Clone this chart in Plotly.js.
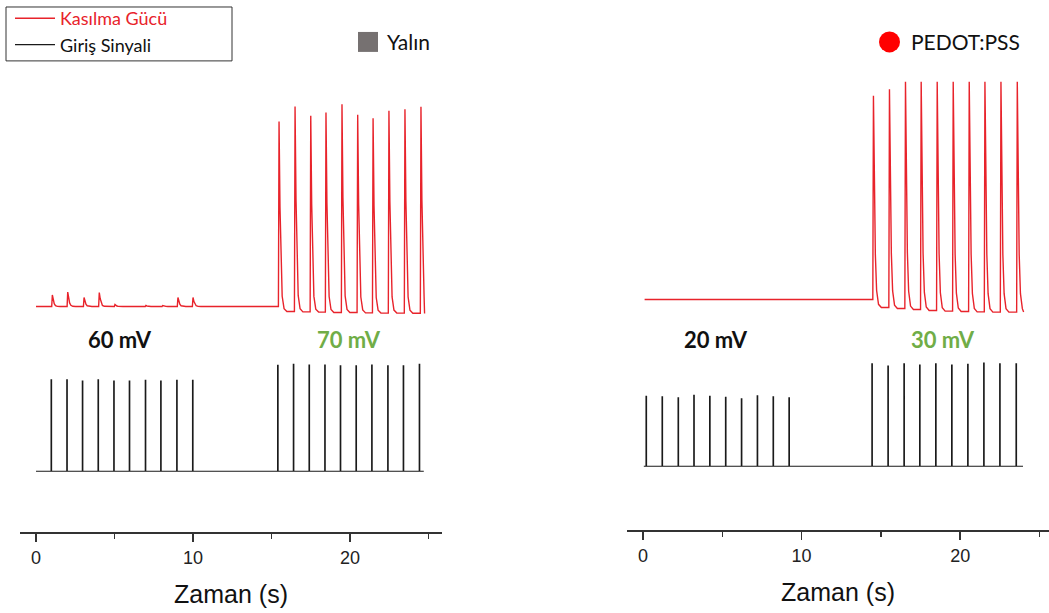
<!DOCTYPE html>
<html>
<head>
<meta charset="utf-8">
<script src="https://cdn.plot.ly/plotly-3.0.1.min.js"></script>
<style>html,body{margin:0;padding:0;background:#fff;}#chart{width:1049px;height:613px;}</style>
</head>
<body>
<div id="chart"></div>
<script>
// ---------- DATA ----------
// Left panel: "Yalın" (bare electrode) — contraction force peaks (arbitrary units, baseline = 0)
const yalinForceTimes   = [1.04, 2.02, 3.06, 4.03, 5.03, 7.0, 8.07, 9.04, 10.0,
                           15.48, 16.5, 17.5, 18.47, 19.49, 20.49, 21.47, 22.48, 23.5, 24.52];
const yalinForcePeaks   = [0.58, 0.72, 0.45, 0.7, 0.1, 0.05, 0.05, 0.45, 0.45,
                           9.27, 10.02, 9.55, 9.72, 10.13, 9.6, 9.43, 9.8, 9.88, 10.0];
const yalinForceTroughs = [0, 0, 0, 0, 0, 0, 0, 0, 0,
                           -0.25, -0.27, -0.28, -0.3, -0.3, -0.32, -0.33, -0.33, -0.34, -0.35];
const yalinForceSpan    = [0, 24.75];
// Left panel input signal pulses
const yalinSignalTimes   = [0.96, 1.96, 2.95, 3.95, 4.95, 5.94, 6.96, 7.94, 8.96, 9.97,
                            15.39, 16.39, 17.39, 18.39, 19.38, 20.38, 21.38, 22.4, 23.39, 24.41];
const yalinSignalHeights = [4.58, 4.58, 4.52, 4.58, 4.52, 4.52, 4.55, 4.52, 4.55, 4.55,
                            5.3, 5.35, 5.32, 5.32, 5.28, 5.28, 5.32, 5.28, 5.28, 5.35];
const yalinSignalSpan    = [0, 24.7];

// Right panel: "PEDOT:PSS"
const pedotForceTimes   = [14.53, 15.54, 16.55, 17.54, 18.55, 19.56, 20.57, 21.56, 22.57, 23.6];
const pedotForcePeaks   = [10.2, 10.53, 10.9, 10.9, 10.9, 10.9, 10.9, 10.9, 10.9, 10.9];
const pedotForceTroughs = [-0.4, -0.45, -0.5, -0.55, -0.58, -0.6, -0.62, -0.63, -0.63, -0.63];
const pedotForceSpan    = [0.1, 24.0];
const pedotSignalTimes   = [0.19, 1.2, 2.21, 3.2, 4.2, 5.2, 6.2, 7.2, 8.2, 9.2,
                            14.43, 15.44, 16.45, 17.44, 18.45, 19.46, 20.47, 21.48, 22.49, 23.52];
const pedotSignalHeights = [3.5, 3.47, 3.42, 3.55, 3.5, 3.45, 3.37, 3.53, 3.47, 3.43,
                            5.13, 5.02, 5.13, 5.07, 5.13, 5.07, 5.1, 5.17, 5.13, 5.13];
const pedotSignalSpan    = [0.05, 23.96];

// Labels
const voltageLabels = ['60 mV', '70 mV', '20 mV', '30 mV'];
const seriesNames   = ['Kasılma Gücü', 'Giriş Sinyali'];
const panelNames    = ['Yalın', 'PEDOT:PSS'];
const xTickVals     = [0, 10, 20];
const xMinorVals    = [5, 15, 25];
const xTitle        = 'Zaman (s)';

// ---------- build waveforms from the read peaks ----------
// twitch shape: fraction of (peak - trough) remaining after the peak
const twitchShape = [[0.06, 0.55], [0.12, 0.25], [0.2, 0.08], [0.32, 0.015], [0.5, 0]];
function forceTrace(times, peaks, troughs, span) {
  const xs = [span[0]], ys = [0];
  let level = 0;
  for (let i = 0; i < times.length; i++) {
    const t = times[i], p = peaks[i], tr = troughs[i];
    xs.push(t - 0.04); ys.push(level);
    xs.push(t); ys.push(p);
    twitchShape.forEach(([dt, f]) => { xs.push(t + dt); ys.push(tr + (p - tr) * f); });
    level = tr;
  }
  xs.push(span[1]); ys.push(level);
  const ox = [], oy = [];
  xs.forEach((x, i) => { if (x <= span[1] + 1e-9) { ox.push(x); oy.push(ys[i]); } });
  return {x: ox, y: oy};
}
function signalTrace(times, heights, span) {
  const xs = [span[0]], ys = [0];
  for (let i = 0; i < times.length; i++) {
    const t = times[i], h = heights[i];
    xs.push(t, t, t + 0.03, t + 0.03); ys.push(0, h, h, 0);
  }
  xs.push(span[1]); ys.push(0);
  return {x: xs, y: ys};
}

const RED = '#e8232b', BLACK = '#1a1a1a', GREEN = '#70ad47';
const yf = forceTrace(yalinForceTimes, yalinForcePeaks, yalinForceTroughs, yalinForceSpan);
const ys = signalTrace(yalinSignalTimes, yalinSignalHeights, yalinSignalSpan);
const pf = forceTrace(pedotForceTimes, pedotForcePeaks, pedotForceTroughs, pedotForceSpan);
const ps = signalTrace(pedotSignalTimes, pedotSignalHeights, pedotSignalSpan);

const traces = [
  {x: yf.x, y: yf.y, xaxis: 'x', yaxis: 'y', mode: 'lines', line: {color: RED, width: 1.4},
   name: '<span style="color:' + RED + '">' + seriesNames[0] + '</span>', legendrank: 1},
  {x: ys.x, y: ys.y, xaxis: 'x', yaxis: 'y2', mode: 'lines', line: {color: BLACK, width: 1.2},
   name: seriesNames[1], legendrank: 2},
  {x: pf.x, y: pf.y, xaxis: 'x2', yaxis: 'y3', mode: 'lines', line: {color: RED, width: 1.4},
   name: seriesNames[0], showlegend: false},
  {x: ps.x, y: ps.y, xaxis: 'x2', yaxis: 'y4', mode: 'lines', line: {color: BLACK, width: 1.2},
   name: seriesNames[1], showlegend: false}
];

const W = 1049, H = 613;
const px = v => v / W, py = v => 1 - v / H;

function xAxis(domain, range, posPx) {
  return {
    domain: domain, range: range, anchor: 'free', position: py(posPx),
    showline: true, linecolor: '#333', linewidth: 2, mirror: false,
    showgrid: false, zeroline: false,
    ticks: 'outside', ticklen: 8, tickwidth: 1.5, tickcolor: '#333',
    tickmode: 'array', tickvals: xTickVals, ticktext: xTickVals.map(String),
    minor: {tickmode: 'array', tickvals: xMinorVals, ticks: 'outside', ticklen: 5, tickwidth: 1.5, tickcolor: '#333', showgrid: false},
    tickfont: {family: 'Liberation Sans, Arial, sans-serif', size: 18, color: '#222'},
    title: {text: xTitle, font: {family: 'Liberation Sans, Arial, sans-serif', size: 25, color: '#111'}, standoff: 18},
    automargin: false, fixedrange: true
  };
}
function yAxis(topPx, botPx, zeroPx) {
  // 20 px per unit
  return {domain: [py(botPx), py(topPx)], range: [(zeroPx - botPx) / 20, (zeroPx - topPx) / 20],
          visible: false, showgrid: false, zeroline: false, fixedrange: true};
}

const labelFont = (c) => ({family: 'Lato, Noto Sans, sans-serif', size: 22, color: c, weight: 'bold'});
const ann = (text, xPx, yPx, xanchor, font) => ({text: text, x: px(xPx), y: py(yPx), xref: 'paper', yref: 'paper',
  xanchor: xanchor, yanchor: 'middle', showarrow: false, font: font});
const panelFont = {family: 'Lato, Noto Sans, sans-serif', size: 21, color: '#111'};
const layout = {
  width: W, height: H,
  margin: {l: 0, r: 0, t: 0, b: 0},
  paper_bgcolor: '#fff', plot_bgcolor: 'rgba(0,0,0,0)',
  showlegend: true,
  legend: {x: px(10), y: py(-1), xanchor: 'left', yanchor: 'top', bgcolor: 'rgba(0,0,0,0)',
           borderwidth: 0, font: {family: 'Lato, Noto Sans, sans-serif', size: 18, color: '#111'},
           itemwidth: 40, tracegroupgap: 0},
  xaxis: xAxis([px(20), px(442)], [-1.02, 25.86], 533),
  xaxis2: xAxis([px(627), 1], [-1.01, 25.6], 531),
  yaxis: yAxis(80, 330, 306),
  yaxis2: yAxis(340, 500, 471),
  yaxis3: yAxis(60, 330, 299),
  yaxis4: yAxis(340, 500, 466),
  shapes: [
    {type: 'rect', xref: 'paper', yref: 'paper', x0: px(6), x1: px(232), y0: py(60), y1: py(6),
     line: {color: '#333', width: 1}, fillcolor: 'rgba(0,0,0,0)'},
    {type: 'rect', xref: 'paper', yref: 'paper', x0: px(358), x1: px(378), y0: py(51), y1: py(31),
     line: {width: 0}, fillcolor: '#767171'},
    {type: 'circle', xref: 'paper', yref: 'paper', x0: px(879), x1: px(900), y0: py(51.5), y1: py(30.5),
     line: {width: 0}, fillcolor: '#ff0000'}
  ],
  annotations: [
    ann(voltageLabels[0], 120, 339, 'center', labelFont('#111')),
    ann(voltageLabels[1], 349, 339, 'center', labelFont(GREEN)),
    ann(voltageLabels[2], 716, 339, 'center', labelFont('#111')),
    ann(voltageLabels[3], 943, 339, 'center', labelFont(GREEN)),
    ann(panelNames[0], 385, 41, 'left', panelFont),
    ann(panelNames[1], 909, 41, 'left', panelFont)
  ]
};

Plotly.newPlot('chart', traces, layout, {displayModeBar: false, staticPlot: true});
</script>
</body>
</html>
